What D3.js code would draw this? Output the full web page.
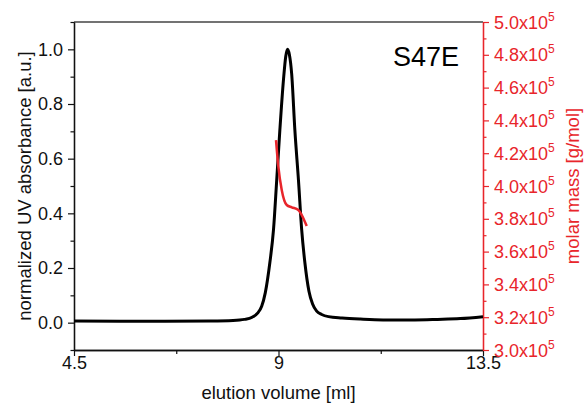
<!DOCTYPE html>
<html lang="en">
<head>
  <meta charset="UTF-8">
  <title>S47E elution</title>
  <script src="https://d3js.org/d3.v7.min.js"></script>
  <style>
    body { margin: 0; background: #fff; }
    svg { display: block; }
  </style>
</head>
<body>
<svg></svg>
<script>
  // chart size and plot frame
  const width = 586, height = 407
  const margin = {top: 22, right: 103, bottom: 57, left: 74}

  // UV trace (elution volume in ml, normalized absorbance)
  const uvVolume = [4.5, 5.5, 6.5, 7.5, 8.0, 8.25, 8.42, 8.54, 8.63, 8.71, 8.81, 8.89, 8.96, 9.03, 9.11, 9.16, 9.20,
    9.24, 9.29, 9.36, 9.44, 9.51, 9.58, 9.67, 9.75, 9.84, 9.95, 10.1, 10.4, 10.8, 11.3, 12.0, 12.5, 13.0, 13.5]
  const uvAbs = [0.006, 0.005, 0.005, 0.006, 0.008, 0.012, 0.02, 0.035, 0.06, 0.11, 0.22, 0.34, 0.52, 0.705, 0.89, 0.975, 1.0,
    0.98, 0.91, 0.705, 0.52, 0.34, 0.22, 0.115, 0.068, 0.042, 0.03, 0.022, 0.017, 0.013, 0.01, 0.01, 0.012, 0.015, 0.022]

  // molar mass across the peak (g/mol)
  const mmVolume = [8.945, 8.996, 9.071, 9.181, 9.291, 9.436, 9.511, 9.621]
  const molarMass = [4.28e5, 4.12e5, 3.976e5, 3.884e5, 3.870e5, 3.854e5, 3.823e5, 3.756e5]

  // ticks
  const xTicks = [4.5, 9, 13.5]
  const xMinor = [6.75, 11.25]
  const yTicks = [0, 0.2, 0.4, 0.6, 0.8, 1.0]
  const yMinor = [-0.1, 0.1, 0.3, 0.5, 0.7, 0.9, 1.1]
  const mTicks = [3.0e5, 3.2e5, 3.4e5, 3.6e5, 3.8e5, 4.0e5, 4.2e5, 4.4e5, 4.6e5, 4.8e5, 5.0e5]
  const mMinor = [3.1e5, 3.3e5, 3.5e5, 3.7e5, 3.9e5, 4.1e5, 4.3e5, 4.5e5, 4.7e5, 4.9e5]

  const red = '#e8252b'
  const font = '"Liberation Sans", Arial, sans-serif'
  const tickFont = 18, titleFont = 18.5

  const x = d3.scaleLinear().domain([4.5, 13.5]).range([margin.left, width - margin.right])
  const y = d3.scaleLinear().domain([-0.1, 1.1]).range([height - margin.bottom, margin.top])
  const yR = d3.scaleLinear().domain([3.0e5, 5.0e5]).range([height - margin.bottom, margin.top])

  const svg = d3.select('svg')
      .attr('width', width)
      .attr('height', height)
      .attr('viewBox', [0, 0, width, height])
      .attr('font-family', font)

  // top border
  svg.append('line')
      .attr('x1', margin.left).attr('x2', width - margin.right)
      .attr('y1', margin.top).attr('y2', margin.top)
      .attr('stroke', '#444').attr('stroke-width', 1.3)

  // bottom axis
  const gx = svg.append('g')
      .attr('transform', `translate(0,${height - margin.bottom})`)
  gx.call(d3.axisBottom(x).tickValues(xTicks).tickSize(6).tickSizeOuter(0).tickPadding(0).tickFormat(d => d))
  gx.append('g').call(d3.axisBottom(x).tickValues(xMinor).tickSize(4).tickSizeOuter(0).tickFormat(''))
  gx.selectAll('.domain').attr('stroke', '#111').attr('stroke-width', 1.3)
  gx.selectAll('.tick line').attr('stroke', '#111').attr('stroke-width', 1.2)
  gx.selectAll('text').attr('font-size', tickFont).attr('font-family', font).attr('fill', '#111')

  // left axis
  const gy = svg.append('g')
      .attr('transform', `translate(${margin.left},0)`)
  gy.call(d3.axisLeft(y).tickValues(yTicks).tickSize(6).tickSizeOuter(0).tickPadding(5).tickFormat(d3.format('.1f')))
  gy.append('g').call(d3.axisLeft(y).tickValues(yMinor).tickSize(3.5).tickSizeOuter(0).tickFormat(''))
  gy.selectAll('.domain').attr('stroke', '#111').attr('stroke-width', 1.3)
  gy.selectAll('.tick line').attr('stroke', '#111').attr('stroke-width', 1.2)
  gy.selectAll('text').attr('font-size', tickFont).attr('font-family', font).attr('fill', '#111')

  // right axis (molar mass)
  const gr = svg.append('g')
      .attr('transform', `translate(${width - margin.right},0)`)
  gr.call(d3.axisRight(yR).tickValues(mTicks).tickSize(6).tickSizeOuter(0).tickPadding(5).tickFormat(''))
  gr.append('g').call(d3.axisRight(yR).tickValues(mMinor).tickSize(3.5).tickSizeOuter(0).tickFormat(''))
  gr.selectAll('.domain').attr('stroke', red).attr('stroke-width', 1.3)
  gr.selectAll('.tick line').attr('stroke', red).attr('stroke-width', 1.2)
  const rl = gr.selectAll('.rlabel')
      .data(mTicks)
      .enter().append('text')
      .attr('class', 'rlabel')
      .attr('x', 11)
      .attr('y', d => yR(d) + 6.5)
      .attr('fill', red)
      .attr('font-size', tickFont)
  rl.append('tspan').text(d => (d / 1e5).toFixed(1) + 'x10')
  rl.append('tspan').attr('dy', -8).attr('font-size', 12).text('5')

  // UV trace
  const uvLine = d3.line()
      .x(d => x(d[0]))
      .y(d => y(d[1]))
      .curve(d3.curveMonotoneX)
  svg.append('path')
      .datum(d3.zip(uvVolume, uvAbs))
      .attr('d', uvLine)
      .attr('fill', 'none')
      .attr('stroke', '#000')
      .attr('stroke-width', 3)

  // molar mass line
  const mmLine = d3.line()
      .x(d => x(d[0]))
      .y(d => yR(d[1]))
      .curve(d3.curveMonotoneX)
  svg.append('path')
      .datum(d3.zip(mmVolume, molarMass))
      .attr('d', mmLine)
      .attr('fill', 'none')
      .attr('stroke', red)
      .attr('stroke-width', 2.5)

  // axis titles
  svg.append('text')
      .attr('x', x(9)).attr('y', 399)
      .attr('text-anchor', 'middle')
      .attr('font-size', titleFont)
      .attr('fill', '#111')
      .text('elution volume [ml]')

  svg.append('text')
      .attr('transform', `translate(31,${(margin.top + height - margin.bottom) / 2}) rotate(-90)`)
      .attr('text-anchor', 'middle')
      .attr('font-size', titleFont)
      .attr('fill', '#111')
      .text('normalized UV absorbance [a.u.]')

  svg.append('text')
      .attr('transform', `translate(579,${(margin.top + height - margin.bottom) / 2}) rotate(-90)`)
      .attr('text-anchor', 'middle')
      .attr('font-size', titleFont)
      .attr('fill', red)
      .text('molar mass [g/mol]')

  // sample name
  svg.append('text')
      .attr('x', 426).attr('y', 66)
      .attr('text-anchor', 'middle')
      .attr('font-size', 27)
      .attr('fill', '#000')
      .text('S47E')
</script>
</body>
</html>
